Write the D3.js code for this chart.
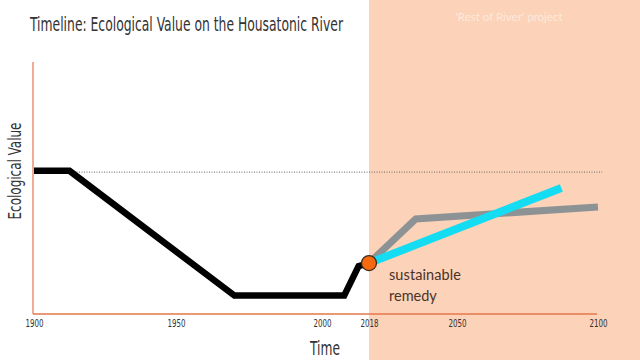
<!DOCTYPE html>
<html><head><meta charset="utf-8">
<script src="https://cdn.jsdelivr.net/npm/d3@7"></script>
<style>body{margin:0;background:#fff}svg{display:block}</style>
</head><body>
<svg id="c" width="640" height="360"></svg>
<script>
// Data
const tickYears = [1900, 1950, 2000, 2018, 2050, 2100];
const historyYears = [1900, 1912.5, 1970, 2008.5, 2014, 2018];
const historyValues = [56.8, 56.8, 7.3, 7.3, 19, 20.2];
const altYears = [2018, 2035, 2100];
const altValues = [20.2, 37.7, 42.5];
const remedyYears = [2018, 2087];
const remedyValues = [20.2, 50];
const referenceLevel = 56.3;
const referenceYears = [1900, 2101.5];
const projectStart = 2018;
const title = "Timeline: Ecological Value on the Housatonic River";

const svg = d3.select("#c");
const W = 640, H = 360;
const x = d3.scaleLinear().domain(tickYears).range([34, 176, 322, 369, 457, 598]);
const y = d3.scaleLinear().domain([0, 100]).range([314, 62]);
const condensed = "'Liberation Sans Narrow', 'DejaVu Sans Condensed', sans-serif";

// shaded project region
svg.append("rect").attr("x", x(projectStart)).attr("y", 0)
  .attr("width", W - x(projectStart)).attr("height", H).attr("fill", "#fcd2b8");
svg.append("text").attr("x", 509).attr("y", 21).attr("text-anchor", "middle")
  .attr("font-family", "Lato, 'Open Sans', sans-serif").attr("font-size", 11.5)
  .attr("fill", "#fde9de").text("'Rest of River' project");

// title
svg.append("text").attr("x", 30).attr("y", 31)
  .attr("font-family", condensed)
  .attr("font-size", 19).attr("fill", "#333")
  .attr("textLength", 313).attr("lengthAdjust", "spacingAndGlyphs").text(title);

// axes
const axisColor = "#e3774a";
svg.append("line").attr("x1", 33).attr("x2", 33).attr("y1", 62).attr("y2", y(0))
  .attr("stroke", axisColor).attr("stroke-width", 1.2);
const xAxis = d3.axisBottom(x).tickValues(tickYears).tickFormat(d3.format("d")).tickSize(0).tickPadding(6);
const gx = svg.append("g").attr("transform", `translate(0,${y(0)})`).call(xAxis);
gx.select(".domain").attr("d", `M33,0H597`).attr("stroke", axisColor).attr("stroke-width", 1.5);
gx.selectAll("text").attr("font-family", condensed)
  .attr("font-size", 10).attr("fill", "#333")
  .attr("textLength", 18).attr("lengthAdjust", "spacingAndGlyphs");

svg.append("text").attr("x", 325).attr("y", 355).attr("text-anchor", "middle")
  .attr("font-family", condensed)
  .attr("font-size", 19).attr("fill", "#333")
  .attr("textLength", 30).attr("lengthAdjust", "spacingAndGlyphs").text("Time");
svg.append("text").attr("transform", "translate(21,171) rotate(-90)").attr("text-anchor", "middle")
  .attr("font-family", condensed)
  .attr("font-size", 18).attr("fill", "#333")
  .attr("textLength", 97).attr("lengthAdjust", "spacingAndGlyphs").text("Ecological Value");

// reference dotted line
svg.append("line").attr("x1", x(referenceYears[0])).attr("x2", x(referenceYears[1]))
  .attr("y1", y(referenceLevel)).attr("y2", y(referenceLevel))
  .attr("stroke", "#666").attr("stroke-width", 1).attr("stroke-dasharray", "1,1.5");

const line = d3.line().x(d => x(d[0])).y(d => y(d[1]));
const pts = (ys, vs) => ys.map((v, i) => [v, vs[i]]);

svg.append("path").attr("d", line(pts(historyYears, historyValues)))
  .attr("fill", "none").attr("stroke", "#000").attr("stroke-width", 6.5).attr("stroke-linejoin", "miter");
svg.append("path").attr("d", line(pts(altYears, altValues)))
  .attr("fill", "none").attr("stroke", "#8d9395").attr("stroke-width", 7);
svg.append("path").attr("d", line(pts(remedyYears, remedyValues)))
  .attr("fill", "none").attr("stroke", "#14dcf2").attr("stroke-width", 8);

svg.append("circle").attr("cx", x(projectStart)).attr("cy", y(historyValues[historyValues.length - 1]))
  .attr("r", 7.5).attr("fill", "#f6690e").attr("stroke", "#3a2a20").attr("stroke-width", 1.2);

const lbl = svg.append("text").attr("font-family", "Lato, 'Open Sans', sans-serif")
  .attr("font-size", 14.5).attr("fill", "#4b3329");
lbl.append("tspan").attr("x", 389).attr("y", 280).attr("textLength", 72).text("sustainable");
lbl.append("tspan").attr("x", 389).attr("y", 301).text("remedy");
</script>
</body></html>
